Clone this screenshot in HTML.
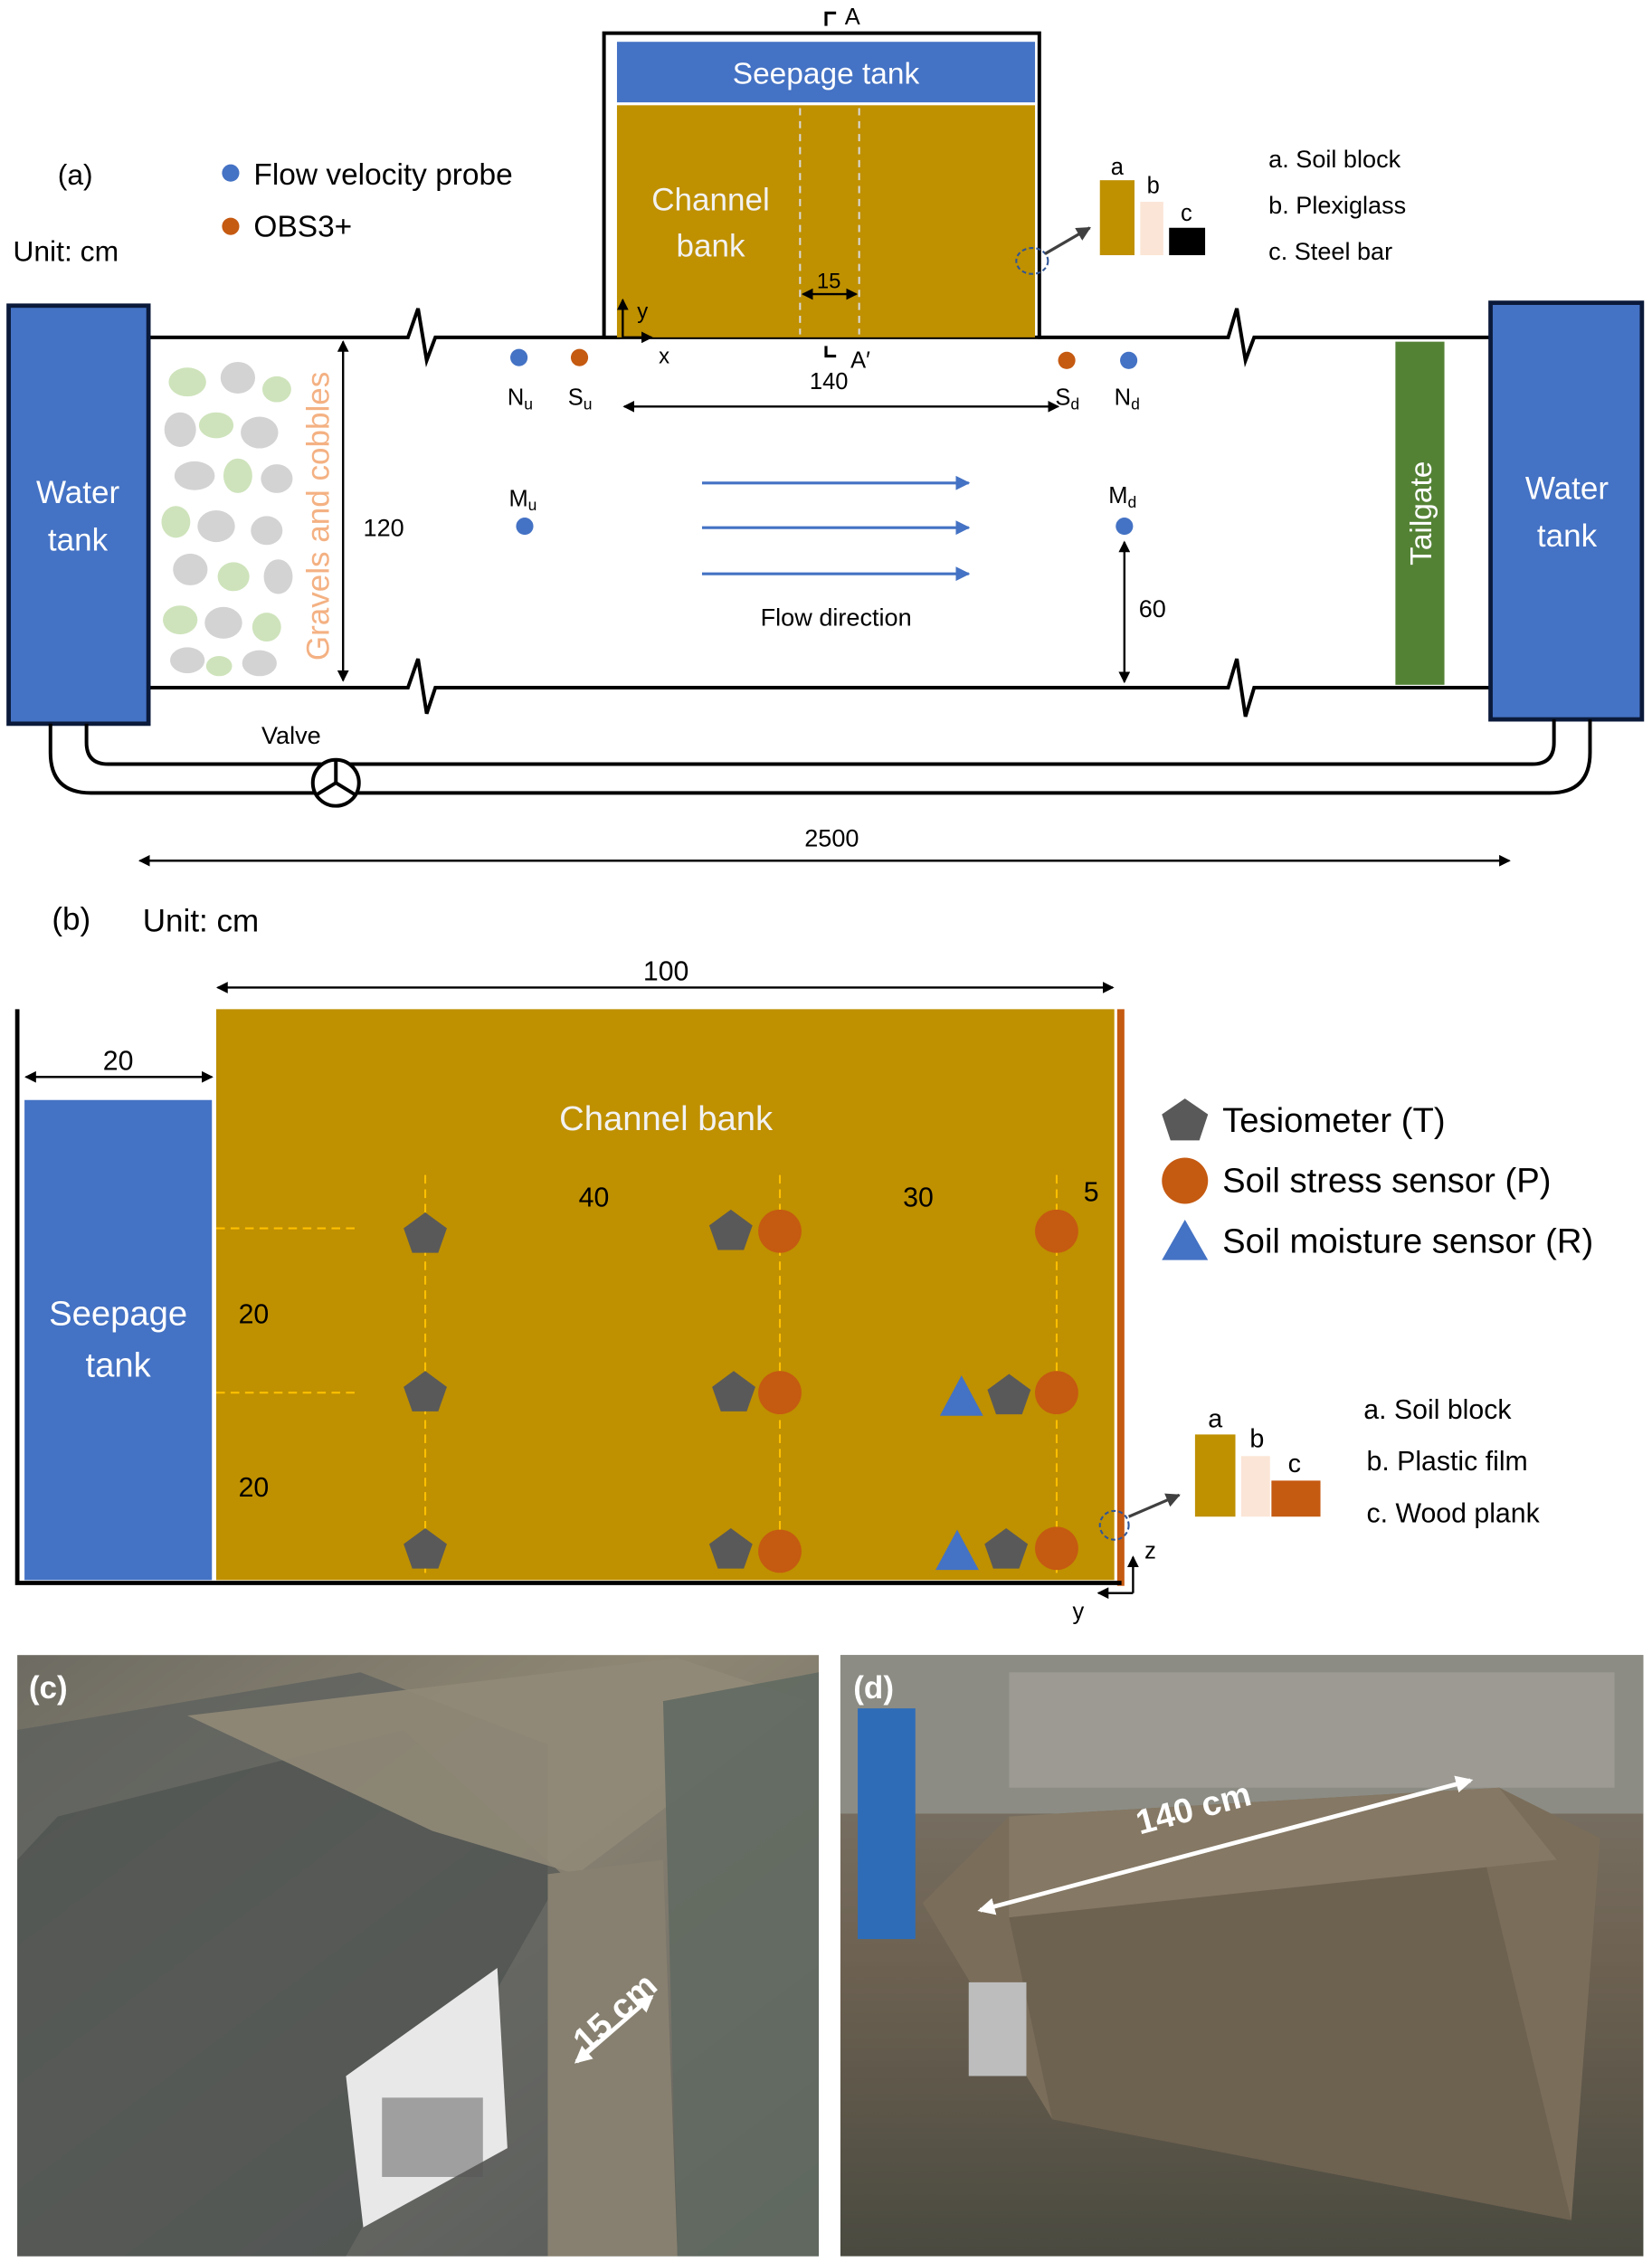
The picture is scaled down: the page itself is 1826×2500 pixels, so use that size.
<!DOCTYPE html>
<html><head><meta charset="utf-8"><style>
html,body{margin:0;padding:0;background:#fff;}
svg{display:block;}
text{font-family:"Liberation Sans",sans-serif;}
</style></head><body>
<svg width="1826" height="2500" viewBox="0 0 1146 1569" xmlns="http://www.w3.org/2000/svg">
<defs>
<marker id="ah" markerWidth="8" markerHeight="8" refX="7" refY="4" orient="auto-start-reverse" markerUnits="userSpaceOnUse"><path d="M0,0 L8,4 L0,8 z" fill="#000"/></marker>
<marker id="ab" markerWidth="10" markerHeight="10" refX="9" refY="5" orient="auto" markerUnits="userSpaceOnUse"><path d="M0,0 L10,5 L0,10 z" fill="#4472c4"/></marker>
<marker id="aw" markerWidth="12" markerHeight="12" refX="10" refY="6" orient="auto-start-reverse" markerUnits="userSpaceOnUse"><path d="M0,0 L12,6 L0,12 z" fill="#fff"/></marker>
<marker id="ag" markerWidth="10" markerHeight="10" refX="9" refY="5" orient="auto" markerUnits="userSpaceOnUse"><path d="M0,0 L10,5 L0,10 z" fill="#404040"/></marker>
<linearGradient id="pc" x1="0" y1="0" x2="1" y2="1"><stop offset="0" stop-color="#6d6b62"/><stop offset="0.4" stop-color="#8f8774"/><stop offset="0.7" stop-color="#77736a"/><stop offset="1" stop-color="#4e524c"/></linearGradient>
<linearGradient id="pd" x1="0" y1="0" x2="0" y2="1"><stop offset="0" stop-color="#7e7a70"/><stop offset="0.5" stop-color="#6e6252"/><stop offset="1" stop-color="#4a4a40"/></linearGradient>
</defs>

<!-- (a) -->
<text x="40" y="128" font-size="20">(a)</text>
<text x="9" y="181" font-size="20">Unit: cm</text>
<circle cx="160" cy="120" r="6" fill="#4472c4"/><text x="176" y="128" font-size="21">Flow velocity probe</text>
<circle cx="160" cy="157" r="6" fill="#c55a11"/><text x="176" y="164" font-size="21">OBS3+</text>

<path d="M103,234 H283 L290,214 L296,250 L302,234 H430" fill="none" stroke="#000" stroke-width="2.5"/>
<path d="M720,234 H852 L858,214 L864,250 L870,234 H1033" fill="none" stroke="#000" stroke-width="2.5"/>
<path d="M103,477 H283 L290,457 L296,495 L302,477 H852 L858,457 L864,497 L870,477 H1033" fill="none" stroke="#000" stroke-width="2.5"/>

<rect x="419" y="23" width="302" height="211" fill="#fff" stroke="#000" stroke-width="2.5"/>
<rect x="428" y="29" width="290" height="42" fill="#4472c4"/>
<text x="573" y="58" font-size="21" fill="#fff" text-anchor="middle">Seepage tank</text>
<rect x="428" y="73" width="290" height="161" fill="#bf9000"/>
<line x1="555" y1="75" x2="555" y2="232" stroke="#d9d9d9" stroke-dasharray="5,4" stroke-width="1.3"/>
<line x1="596" y1="75" x2="596" y2="232" stroke="#d9d9d9" stroke-dasharray="5,4" stroke-width="1.3"/>
<text x="493" y="146" font-size="22" fill="#f2f2f2" text-anchor="middle">Channel</text>
<text x="493" y="178" font-size="22" fill="#f2f2f2" text-anchor="middle">bank</text>
<line x1="557" y1="204" x2="594" y2="204" stroke="#000" stroke-width="1.5" marker-start="url(#ah)" marker-end="url(#ah)"/>
<text x="575" y="200" font-size="15" text-anchor="middle">15</text>
<path d="M573,18 V9 H580" fill="none" stroke="#000" stroke-width="2"/><text x="586" y="17" font-size="16">A</text>
<path d="M573,240 V247 H580" fill="none" stroke="#000" stroke-width="2"/><text x="590" y="255" font-size="16">A′</text>
<line x1="432" y1="234" x2="432" y2="208" stroke="#000" stroke-width="1.5" marker-end="url(#ah)"/>
<line x1="432" y1="234" x2="452" y2="234" stroke="#000" stroke-width="1.5" marker-end="url(#ah)"/>
<text x="442" y="221" font-size="15">y</text><text x="457" y="252" font-size="15">x</text>

<rect x="6" y="212" width="97" height="290" fill="#4472c4" stroke="#0b1a3a" stroke-width="3"/>
<text x="54" y="349" font-size="22" fill="#fff" text-anchor="middle">Water</text>
<text x="54" y="382" font-size="22" fill="#fff" text-anchor="middle">tank</text>
<rect x="1034" y="210" width="105" height="289" fill="#4472c4" stroke="#0b1a3a" stroke-width="3"/>
<text x="1087" y="346" font-size="22" fill="#fff" text-anchor="middle">Water</text>
<text x="1087" y="379" font-size="22" fill="#fff" text-anchor="middle">tank</text>

<g opacity="0.9">
<ellipse cx="130" cy="265" rx="13" ry="10" fill="#c9e0b4"/><ellipse cx="165" cy="262" rx="12" ry="11" fill="#cfcfcf"/><ellipse cx="192" cy="270" rx="10" ry="9" fill="#c9e0b4"/>
<ellipse cx="125" cy="298" rx="11" ry="12" fill="#cfcfcf"/><ellipse cx="150" cy="295" rx="12" ry="9" fill="#c9e0b4"/><ellipse cx="180" cy="300" rx="13" ry="11" fill="#cfcfcf"/>
<ellipse cx="135" cy="330" rx="14" ry="10" fill="#cfcfcf"/><ellipse cx="165" cy="330" rx="10" ry="12" fill="#c9e0b4"/><ellipse cx="192" cy="332" rx="11" ry="10" fill="#cfcfcf"/>
<ellipse cx="122" cy="362" rx="10" ry="11" fill="#c9e0b4"/><ellipse cx="150" cy="365" rx="13" ry="11" fill="#cfcfcf"/><ellipse cx="185" cy="368" rx="11" ry="10" fill="#cfcfcf"/>
<ellipse cx="132" cy="395" rx="12" ry="11" fill="#cfcfcf"/><ellipse cx="162" cy="400" rx="11" ry="10" fill="#c9e0b4"/><ellipse cx="193" cy="400" rx="10" ry="12" fill="#cfcfcf"/>
<ellipse cx="125" cy="430" rx="12" ry="10" fill="#c9e0b4"/><ellipse cx="155" cy="432" rx="13" ry="11" fill="#cfcfcf"/><ellipse cx="185" cy="435" rx="10" ry="10" fill="#c9e0b4"/>
<ellipse cx="130" cy="458" rx="12" ry="9" fill="#cfcfcf"/><ellipse cx="180" cy="460" rx="12" ry="9" fill="#cfcfcf"/><ellipse cx="152" cy="462" rx="9" ry="7" fill="#c9e0b4"/>
</g>
<text transform="translate(228,358) rotate(-90)" font-size="22" fill="#f4b183" text-anchor="middle">Gravels and cobbles</text>
<line x1="238" y1="237" x2="238" y2="472" stroke="#000" stroke-width="1.5" marker-start="url(#ah)" marker-end="url(#ah)"/>
<text x="252" y="372" font-size="17">120</text>

<circle cx="360" cy="248" r="6" fill="#4472c4"/><text x="352" y="281" font-size="16">N<tspan font-size="11" dy="3">u</tspan></text>
<circle cx="402" cy="248" r="6" fill="#c55a11"/><text x="394" y="281" font-size="16">S<tspan font-size="11" dy="3">u</tspan></text>
<circle cx="740" cy="250" r="6" fill="#c55a11"/><text x="732" y="281" font-size="16">S<tspan font-size="11" dy="3">d</tspan></text>
<circle cx="783" cy="250" r="6" fill="#4472c4"/><text x="773" y="281" font-size="16">N<tspan font-size="11" dy="3">d</tspan></text>
<circle cx="364" cy="365" r="6" fill="#4472c4"/><text x="353" y="351" font-size="16">M<tspan font-size="11" dy="3">u</tspan></text>
<circle cx="780" cy="365" r="6" fill="#4472c4"/><text x="769" y="349" font-size="16">M<tspan font-size="11" dy="3">d</tspan></text>
<line x1="433" y1="282" x2="734" y2="282" stroke="#000" stroke-width="1.5" marker-start="url(#ah)" marker-end="url(#ah)"/>
<text x="575" y="270" font-size="16" text-anchor="middle">140</text>
<line x1="487" y1="335" x2="672" y2="335" stroke="#4472c4" stroke-width="2" marker-end="url(#ab)"/>
<line x1="487" y1="366" x2="672" y2="366" stroke="#4472c4" stroke-width="2" marker-end="url(#ab)"/>
<line x1="487" y1="398" x2="672" y2="398" stroke="#4472c4" stroke-width="2" marker-end="url(#ab)"/>
<text x="580" y="434" font-size="17" text-anchor="middle">Flow direction</text>
<line x1="780" y1="376" x2="780" y2="473" stroke="#000" stroke-width="1.5" marker-start="url(#ah)" marker-end="url(#ah)"/>
<text x="790" y="428" font-size="17">60</text>

<rect x="968" y="237" width="34" height="238" fill="#548235"/>
<text transform="translate(993,356) rotate(-90)" font-size="21" fill="#fff" text-anchor="middle">Tailgate</text>

<path d="M35,502 V522 Q35,550 63,550 H1075 Q1103,550 1103,522 V499" fill="none" stroke="#000" stroke-width="2.5"/>
<path d="M60,502 V515 Q60,530 75,530 H1063 Q1078,530 1078,515 V499" fill="none" stroke="#000" stroke-width="2.5"/>
<circle cx="233" cy="543" r="16" fill="#fff" stroke="#000" stroke-width="2.5"/>
<path d="M233,543 V528 M233,543 L220,551 M233,543 L246,551" stroke="#000" stroke-width="2.5"/>
<text x="202" y="516" font-size="17" text-anchor="middle">Valve</text>
<line x1="97" y1="597" x2="1047" y2="597" stroke="#000" stroke-width="1.5" marker-start="url(#ah)" marker-end="url(#ah)"/>
<text x="577" y="587" font-size="17" text-anchor="middle">2500</text>

<ellipse cx="716" cy="181" rx="11" ry="9" fill="none" stroke="#2f5597" stroke-dasharray="3,2" stroke-width="1.3"/>
<line x1="725" y1="176" x2="756" y2="158" stroke="#404040" stroke-width="2" marker-end="url(#ag)"/>
<rect x="763" y="125" width="24" height="52" fill="#bf9000"/><text x="775" y="121" font-size="16" text-anchor="middle">a</text>
<rect x="791" y="140" width="16" height="37" fill="#fbe5d6"/><text x="800" y="134" font-size="16" text-anchor="middle">b</text>
<rect x="811" y="158" width="25" height="19" fill="#000"/><text x="823" y="153" font-size="16" text-anchor="middle">c</text>
<text x="880" y="116" font-size="17">a. Soil block</text>
<text x="880" y="148" font-size="17">b. Plexiglass</text>
<text x="880" y="180" font-size="17">c. Steel bar</text>

<!-- (b) -->
<text x="36" y="645" font-size="22">(b)</text>
<text x="99" y="646" font-size="22">Unit: cm</text>
<line x1="151" y1="685" x2="772" y2="685" stroke="#000" stroke-width="1.5" marker-start="url(#ah)" marker-end="url(#ah)"/>
<text x="462" y="680" font-size="19" text-anchor="middle">100</text>
<rect x="150" y="700" width="623" height="396" fill="#bf9000"/>
<rect x="775" y="700" width="5" height="400" fill="#c55a11"/>
<rect x="17" y="763" width="130" height="333" fill="#4472c4"/>
<path d="M12,700 V1098 H778" fill="none" stroke="#000" stroke-width="3"/>
<line x1="18" y1="747" x2="147" y2="747" stroke="#000" stroke-width="1.5" marker-start="url(#ah)" marker-end="url(#ah)"/>
<text x="82" y="742" font-size="19" text-anchor="middle">20</text>
<text x="82" y="919" font-size="24" fill="#fff" text-anchor="middle">Seepage</text>
<text x="82" y="955" font-size="24" fill="#fff" text-anchor="middle">tank</text>
<text x="462" y="784" font-size="24" fill="#f2f2f2" text-anchor="middle">Channel bank</text>
<g stroke="#ffc000" stroke-width="1.3" stroke-dasharray="6,4">
<line x1="150" y1="852" x2="250" y2="852"/><line x1="150" y1="966" x2="250" y2="966"/>
<line x1="295" y1="815" x2="295" y2="1095"/><line x1="541" y1="815" x2="541" y2="1095"/><line x1="733" y1="815" x2="733" y2="1095"/>
</g>
<text x="412" y="837" font-size="19" text-anchor="middle">40</text>
<text x="637" y="837" font-size="19" text-anchor="middle">30</text>
<text x="757" y="833" font-size="19" text-anchor="middle">5</text>
<text x="176" y="918" font-size="19" text-anchor="middle">20</text>
<text x="176" y="1038" font-size="19" text-anchor="middle">20</text>
<g fill="#595959">
<polygon points="295,841 310,852 304,869 286,869 280,852"/>
<polygon points="295,951 310,962 304,979 286,979 280,962"/>
<polygon points="295,1060 310,1071 304,1088 286,1088 280,1071"/>
<polygon points="507,839 522,850 516,867 498,867 492,850"/>
<polygon points="509,951 524,962 518,979 500,979 494,962"/>
<polygon points="507,1060 522,1071 516,1088 498,1088 492,1071"/>
<polygon points="700,953 715,964 709,981 691,981 685,964"/>
<polygon points="698,1060 713,1071 707,1088 689,1088 683,1071"/>
</g>
<g fill="#c55a11">
<circle cx="541" cy="854" r="15"/><circle cx="541" cy="966" r="15"/><circle cx="541" cy="1076" r="15"/>
<circle cx="733" cy="854" r="15"/><circle cx="733" cy="966" r="15"/><circle cx="733" cy="1074" r="15"/>
</g>
<g fill="#4472c4">
<polygon points="667,954 682,982 652,982"/><polygon points="664,1061 679,1089 649,1089"/>
</g>
<polygon points="822,762 838,773 832,791 812,791 806,773" fill="#595959"/>
<text x="848" y="785" font-size="24">Tesiometer (T)</text>
<circle cx="822" cy="819" r="16" fill="#c55a11"/>
<text x="848" y="827" font-size="24">Soil stress sensor (P)</text>
<polygon points="822,846 838,874 806,874" fill="#4472c4"/>
<text x="848" y="869" font-size="24">Soil moisture sensor (R)</text>

<ellipse cx="773" cy="1058" rx="10" ry="10" fill="none" stroke="#2f5597" stroke-dasharray="3,2" stroke-width="1.3"/>
<line x1="783" y1="1052" x2="818" y2="1037" stroke="#404040" stroke-width="2" marker-end="url(#ag)"/>
<rect x="829" y="995" width="28" height="57" fill="#bf9000"/><text x="843" y="990" font-size="18" text-anchor="middle">a</text>
<rect x="861" y="1010" width="20" height="42" fill="#fbe5d6"/><text x="872" y="1004" font-size="18" text-anchor="middle">b</text>
<rect x="882" y="1027" width="34" height="25" fill="#c55a11"/><text x="898" y="1021" font-size="18" text-anchor="middle">c</text>
<text x="946" y="984" font-size="19">a. Soil block</text>
<text x="948" y="1020" font-size="19">b. Plastic film</text>
<text x="948" y="1056" font-size="19">c. Wood plank</text>
<line x1="786" y1="1105" x2="786" y2="1080" stroke="#000" stroke-width="1.5" marker-end="url(#ah)"/>
<line x1="786" y1="1105" x2="762" y2="1105" stroke="#000" stroke-width="1.5" marker-end="url(#ah)"/>
<text x="794" y="1081" font-size="16">z</text><text x="744" y="1123" font-size="16">y</text>

<!-- (c) photo -->
<rect x="12" y="1148" width="556" height="417" fill="url(#pc)"/>
<polygon points="12,1200 250,1160 380,1210 380,1565 12,1565" fill="#5a5e5c" opacity="0.7"/>
<polygon points="40,1260 280,1200 390,1300 240,1565 12,1565 12,1290" fill="#4a4e4d" opacity="0.6"/>
<polygon points="130,1190 470,1150 560,1180 400,1300 300,1270" fill="#918a78" opacity="0.9"/>
<polygon points="380,1300 460,1290 470,1565 380,1565" fill="#878070"/>
<polygon points="460,1180 568,1160 568,1565 470,1565" fill="#626a62" opacity="0.9"/>
<polygon points="240,1440 345,1365 352,1490 252,1545" fill="#e8e8e8"/>
<rect x="265" y="1455" width="70" height="55" fill="#555" opacity="0.5"/>
<line x1="400" y1="1430" x2="452" y2="1385" stroke="#fff" stroke-width="3" marker-start="url(#aw)" marker-end="url(#aw)"/>
<text transform="translate(432,1402) rotate(-42)" font-size="24" font-weight="bold" fill="#fff" text-anchor="middle">15 cm</text>
<text x="20" y="1178" font-size="22" font-weight="bold" fill="#fff">(c)</text>

<!-- (d) photo -->
<rect x="583" y="1148" width="557" height="417" fill="url(#pd)"/>
<rect x="583" y="1148" width="557" height="110" fill="#8c8c84"/>
<rect x="700" y="1160" width="420" height="80" fill="#a6a49c" opacity="0.6"/>
<polygon points="640,1320 700,1260 1040,1240 1110,1275 1090,1540 730,1470" fill="#7a6d5a"/>
<polygon points="700,1330 1030,1290 1090,1540 730,1470" fill="#6d6150"/>
<polygon points="700,1260 1040,1240 1080,1290 700,1330" fill="#857864"/>
<rect x="595" y="1185" width="40" height="160" fill="#2e6cb8"/>
<rect x="672" y="1375" width="40" height="65" fill="#bdbdbd"/>
<line x1="680" y1="1325" x2="1020" y2="1235" stroke="#fff" stroke-width="3" marker-start="url(#aw)" marker-end="url(#aw)"/>
<text transform="translate(830,1262) rotate(-15)" font-size="24" font-weight="bold" fill="#fff" text-anchor="middle">140 cm</text>
<text x="592" y="1178" font-size="22" font-weight="bold" fill="#fff">(d)</text>
</svg>
</body></html>
